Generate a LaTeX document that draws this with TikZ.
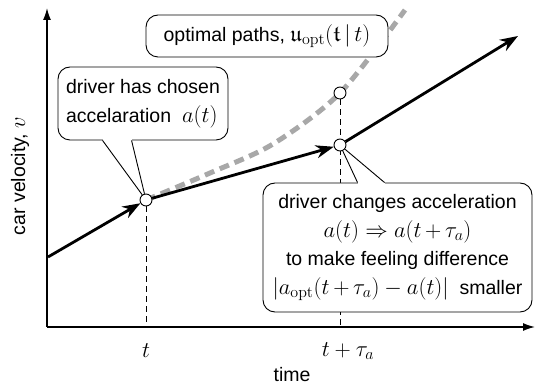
\RequirePackage{fix-cm}
\documentclass[tikz,border=0pt]{standalone}
\usepackage[no-math]{fontspec}
\setmainfont{Liberation Sans}
\usepackage{amsmath,amssymb}
\usetikzlibrary{arrows.meta,calc,backgrounds}
\definecolor{pathgray}{RGB}{168,168,168}
\DeclareMathSizes{19.5}{22.5}{16}{12}

\begin{document}
\begin{tikzpicture}[x=1pt,y=-1pt,
    font=\fontsize{19.5}{28.5}\selectfont,
    axis/.style={line width=1.4pt,-{Latex[length=12pt,width=8pt]}},
    drive/.style={line width=2.8pt,-{Stealth[length=18pt,width=13pt]}},
    optpath/.style={line width=5pt,pathgray,dash pattern=on 10pt off 6pt},
    dot/.style={circle,draw,fill=white,line width=0.9pt,inner sep=0pt,minimum size=12pt},
    guide/.style={line width=0.8pt,dash pattern=on 6pt off 4pt},
    callout/.style={draw,rounded corners=12pt,fill=white,line width=0.9pt,inner sep=0pt}]

  \useasboundingbox (0,0) rectangle (536,387);

  % axes
  \coordinate (O) at (47,327);
  \coordinate (ytop) at (47,8);
  \coordinate (xend) at (535,327);
  \draw[axis] (O) -- (ytop);
  \draw[axis] (O) -- (xend);

  % operating points
  \node[dot] (p1) at (146,200) {};
  \node[dot] (p2) at (340,145) {};
  \node[dot] (q) at (340,93) {};
  \coordinate (vstart) at (48,257);
  \coordinate (vend) at (518,36);

  \begin{scope}[on background layer]
    \draw[optpath] plot[smooth] coordinates {(p1) (210,173) (273,144) (q) (405,10)};
    \draw[guide] (p1) -- (p1 |- O);
    \draw[guide] (q) -- (q |- O);
  \end{scope}

  % velocity history
  \draw[drive] (vstart) -- (p1);
  \draw[drive] (p1) -- (p2);
  \draw[drive] (p2) -- (vend);

  % axis labels
  \node (tnow) at (146,351) {$t$};
  \node (tnext) at (348,351) {$t+\tau_a$};
  \node (xlab) at (292,375) {time};
  \node[rotate=90] (ylab) at (20,176) {car velocity, $v$};

  % callouts
  \node[callout,align=left,minimum width=170pt,minimum height=73pt] (chosen) at (143,103.5)
    {driver has chosen\\accelaration\ \ $a(t)$};
  \node[callout,minimum width=242pt,minimum height=42pt] (optbox) at (267,36)
    {optimal paths, $\mathfrak{u}_{\mathrm{opt}}(\mathfrak{t}\,|\,t)$};
  \node[callout,align=center,minimum width=269pt,minimum height=129pt] (change) at (397.5,247.5)
    {driver changes acceleration\\
     $a(t)\Rightarrow a(t{\,+\,}\tau_a)$\\
     to make feeling difference\\
     $|a_{\mathrm{opt}}(t{\,+\,}\tau_a)-a(t)|$\ \ smaller};

  % pointers
  \coordinate (c1a) at ($(chosen.south west)+(45,0)$);
  \coordinate (c1b) at ($(chosen.south west)+(74,0)$);
  \coordinate (c3a) at ($(change.north west)+(95,0)$);
  \coordinate (c3b) at ($(change.north west)+(122,0)$);
  \draw[white,line width=2pt] (c1a) -- (c1b);
  \draw[white,line width=2pt] (c3a) -- (c3b);
  \draw[line width=0.9pt] (c1a) -- (p1) -- (c1b);
  \draw[line width=0.9pt] (c3a) -- (p2) -- (c3b);
\end{tikzpicture}
\end{document}
